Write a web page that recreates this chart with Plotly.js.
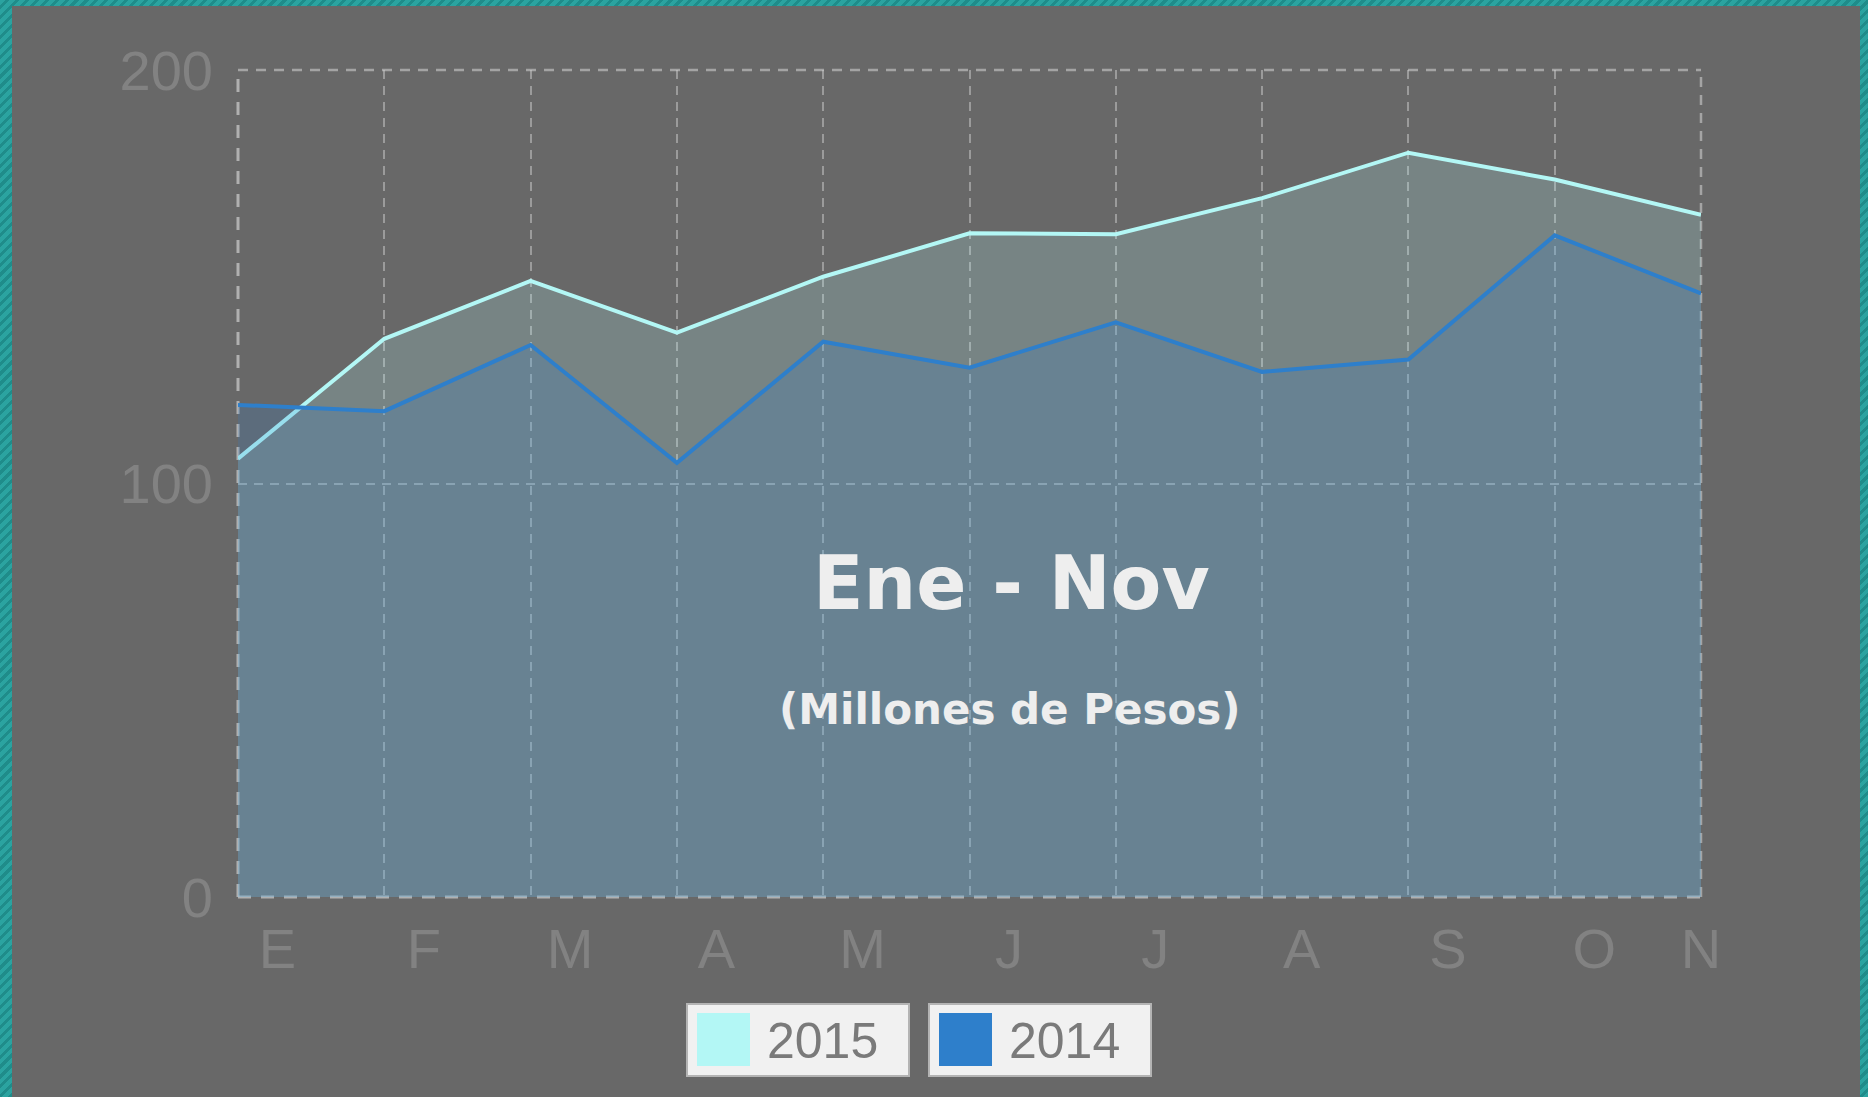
<!DOCTYPE html>
<html>
<head>
<meta charset="utf-8">
<script src="https://cdn.plot.ly/plotly-3.0.1.min.js"></script>
<style>
  html, body { margin: 0; padding: 0; width: 1868px; height: 1097px; overflow: hidden; }
  body { background: repeating-linear-gradient(135deg, #2ba3a0 0px, #2ba3a0 4px, #1f8c8a 4px, #1f8c8a 7px); }
  #chart { position: absolute; left: 12px; top: 6px; width: 1848px; height: 1091px; }
</style>
</head>
<body>
<div id="chart"></div>
<script>
// ---- data ----
const months = ['E', 'F', 'M', 'A', 'M', 'J', 'J', 'A', 'S', 'O', 'N'];
const seriesNames = ['2015', '2014'];
const values2015 = [106, 135, 149, 136.5, 150, 160.5, 160.3, 169, 180, 173.5, 165];
const values2014 = [119, 117.5, 133.5, 105, 134.3, 128, 139, 127, 130, 160, 146];
const yTicks = [0, 100, 200];
const titleText = 'Ene - Nov';
const subtitleText = '(Millones de Pesos)';

// ---- styles ----
const lineColors = ['#b3f7f5', '#2e7fcb'];
const fillColors = ['rgba(179,247,245,0.2)', 'rgba(46,127,203,0.2)'];
const seriesValues = [values2015, values2014];
const seriesAxes = ['x', 'x2'];
const idx = months.map((m, i) => i);

const traces = seriesNames.map((name, s) => ({
  type: 'scatter',
  mode: 'lines',
  name: name,
  x: idx,
  y: seriesValues[s],
  xaxis: seriesAxes[s],
  yaxis: 'y',
  fill: 'tozeroy',
  fillcolor: fillColors[s],
  line: { color: lineColors[s], width: 4 },
  hoverinfo: 'skip',
  showlegend: false
}));

// pixel helpers relative to plot area (page coords)
const PL = 238, PB = 897, PW = 1463, PH = 827;
const px2x = X => (X - PL) / PW;
const px2y = Y => (PB - Y) / PH;

const shapes = [];
const annotations = [];

// plot frame (dashed edges)
const edgeStrong = { color: 'rgba(200,200,200,0.75)', width: 3, dash: '13px,10px' };
const edgeSoft = { color: 'rgba(205,205,205,0.6)', width: 2.5, dash: '10px,8px' };
shapes.push({ type: 'line', xref: 'x domain', yref: 'y domain', x0: 0, x1: 0, y0: 0, y1: 1, line: edgeStrong, layer: 'below' });
shapes.push({ type: 'line', xref: 'x domain', yref: 'y domain', x0: 0, x1: 1, y0: 0, y1: 0, line: edgeStrong, layer: 'below' });
shapes.push({ type: 'line', xref: 'x domain', yref: 'y domain', x0: 0, x1: 1, y0: 1, y1: 1, line: edgeSoft, layer: 'below' });
shapes.push({ type: 'line', xref: 'x domain', yref: 'y domain', x0: 1, x1: 1, y0: 0, y1: 1, line: edgeSoft, layer: 'below' });

// custom legend boxes
seriesNames.forEach((name, i) => {
  const bl = 687 + i * 242, br = bl + 222, bt = 1004, bb = 1076;
  shapes.push({ type: 'rect', xref: 'paper', yref: 'paper',
    x0: px2x(bl), x1: px2x(br), y0: px2y(bb), y1: px2y(bt),
    fillcolor: '#f1f1f1', line: { color: '#b4b4b4', width: 2 } });
  shapes.push({ type: 'rect', xref: 'paper', yref: 'paper',
    x0: px2x(bl + 10), x1: px2x(bl + 63), y0: px2y(bt + 62), y1: px2y(bt + 9),
    fillcolor: lineColors[i], line: { width: 0 } });
  annotations.push({ xref: 'paper', yref: 'paper', x: px2x(bl + 78), y: px2y(1041),
    xanchor: 'left', yanchor: 'middle', showarrow: false, text: name,
    font: { family: 'Liberation Sans, Arial, sans-serif', size: 50, color: '#7a7a7a' } });
});

annotations.push({ xref: 'paper', yref: 'paper', x: px2x(1011), y: px2y(583),
  xanchor: 'center', yanchor: 'middle', showarrow: false, text: titleText,
  font: { family: 'DejaVu Sans, sans-serif', size: 74, color: '#eeeeee', weight: 700 } });
annotations.push({ xref: 'paper', yref: 'paper', x: px2x(1010), y: px2y(709),
  xanchor: 'center', yanchor: 'middle', showarrow: false, text: subtitleText,
  font: { family: 'DejaVu Sans, sans-serif', size: 42, color: '#eeeeee', weight: 700 } });

const gridStyle = { gridcolor: 'rgba(205,205,205,0.5)', gridwidth: 2, griddash: '9px,7px' };
const tickFont = { family: 'Liberation Sans, Arial, sans-serif', size: 56, color: '#828282' };

const layout = {
  width: 1848, height: 1091,
  margin: { l: 226, r: 159, t: 64, b: 200, pad: 0 },
  paper_bgcolor: '#686868',
  plot_bgcolor: 'rgba(0,0,0,0)',
  showlegend: false,
  xaxis: Object.assign({
    range: [0, months.length - 1], tickmode: 'array', tickvals: idx,
    showticklabels: false, showgrid: true, zeroline: false, showline: false, ticks: ''
  }, gridStyle),
  xaxis2: {
    overlaying: 'x', anchor: 'y', side: 'bottom', range: [0, months.length - 1],
    tickmode: 'array',
    tickvals: idx.map(i => Math.min(i + 0.27, months.length - 1)),
    ticktext: months, showgrid: false, zeroline: false, showline: false, ticks: '',
    tickfont: tickFont, ticklabelstandoff: 14
  },
  yaxis: Object.assign({
    range: [0, 200], tickmode: 'array', tickvals: yTicks, ticktext: yTicks.map(String),
    showgrid: true, zeroline: false, showline: false, ticks: '',
    tickfont: tickFont, ticklabelstandoff: 24
  }, gridStyle),
  shapes: shapes,
  annotations: annotations
};

Plotly.newPlot('chart', traces, layout, { displayModeBar: false, staticPlot: true });
</script>
</body>
</html>
